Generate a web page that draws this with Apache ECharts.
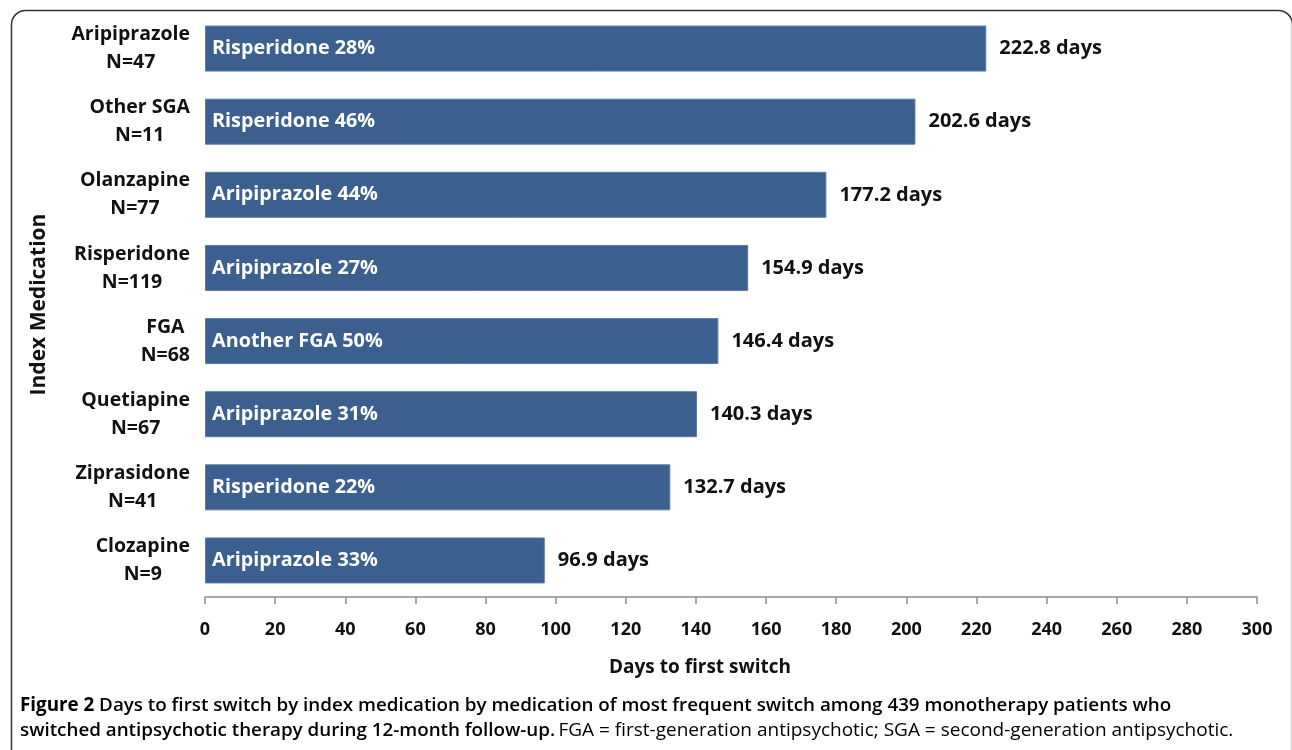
<!DOCTYPE html>
<html>
<head>
<meta charset="utf-8">
<script src="https://cdn.jsdelivr.net/npm/echarts@6/dist/echarts.min.js"></script>
<style>
html,body{margin:0;padding:0;background:#fff;}
#chart{width:1292px;height:750px;}
</style>
</head>
<body>
<div id="chart"></div>
<script>
const medications = ['Aripiprazole', 'Other SGA', 'Olanzapine', 'Risperidone', 'FGA', 'Quetiapine', 'Ziprasidone', 'Clozapine'];
const patientCounts = [47, 11, 77, 119, 68, 67, 41, 9];
const daysToSwitch = [222.8, 202.6, 177.2, 154.9, 146.4, 140.3, 132.7, 96.9];
const switchLabels = ['Risperidone 28%', 'Risperidone 46%', 'Aripiprazole 44%', 'Aripiprazole 27%', 'Another FGA 50%', 'Aripiprazole 31%', 'Risperidone 22%', 'Aripiprazole 33%'];
const xTicks = { min: 0, max: 300, interval: 20 };

const FONT = '"Open Sans", Lato, sans-serif';
const chart = echarts.init(document.getElementById('chart'));
const categories = medications.map((m, i) => m + '\nN=' + patientCounts[i]);

chart.setOption({
  animation: false,
  backgroundColor: '#fff',
  grid: { left: 205, right: 35, top: 12, bottom: 153 },
  xAxis: {
    type: 'value',
    min: xTicks.min, max: xTicks.max, interval: xTicks.interval,
    splitLine: { show: false },
    axisLine: { show: true, lineStyle: { color: '#8c8c8c', width: 1.5 } },
    axisTick: { show: true, length: 7, lineStyle: { color: '#8c8c8c', width: 1.5 } },
    axisLabel: { margin: 24, color: '#111', fontFamily: FONT, fontWeight: 'bold', fontSize: 18 },
    name: 'Days to first switch',
    nameLocation: 'middle',
    nameGap: 61,
    nameTextStyle: { color: '#111', fontFamily: FONT, fontWeight: 'bold', fontSize: 19, padding: [0, 62, 0, 0] }
  },
  yAxis: {
    type: 'category',
    data: categories,
    inverse: true,
    axisLine: { show: false },
    axisTick: { show: false },
    axisLabel: {
      margin: 15,
      align: 'right',
      formatter: function (v) { return v.split('\n').map(s => '{a|' + s + '}').join('\n'); },
      rich: { a: { align: 'center', color: '#111', fontFamily: FONT, fontWeight: 'bold', fontSize: 19.5, lineHeight: 28 } }
    },
    name: 'Index Medication',
    nameLocation: 'middle',
    nameRotate: 90,
    nameGap: 155,
    nameTextStyle: { color: '#111', fontFamily: FONT, fontWeight: 'bold', fontSize: 21 }
  },
  series: [
    {
      type: 'bar',
      data: daysToSwitch,
      barWidth: 46,
      itemStyle: { color: '#3b5f8e', borderColor: '#5b7ca8', borderWidth: 1 },
      label: {
        show: true, position: 'insideLeft', distance: 7,
        formatter: p => switchLabels[p.dataIndex],
        color: '#fff', fontFamily: FONT, fontWeight: 'bold', fontSize: 19.8
      }
    },
    {
      type: 'bar',
      data: daysToSwitch,
      barWidth: 46,
      barGap: '-100%',
      itemStyle: { color: 'transparent' },
      silent: true,
      label: {
        show: true, position: 'right', distance: 13,
        formatter: p => p.value + ' days',
        color: '#111', fontFamily: FONT, fontWeight: 'bold', fontSize: 20
      }
    }
  ],
  graphic: [
    {
      type: 'rect', left: 9, top: 8, silent: true,
      shape: { width: 1281, height: 770, r: 14 },
      style: { fill: 'none', stroke: '#333', lineWidth: 1.5 }
    },
    {
      type: 'text', left: 20, top: 696,
      style: {
        text: '{b|Figure 2 }{s|Days to first switch by index medication by medication of most frequent switch among 439 monotherapy patients who}\n{s|switched antipsychotic therapy during 12-month follow-up.} {n|FGA = first-generation antipsychotic; SGA = second-generation antipsychotic.}',
        rich: {
          b: { fontFamily: FONT, fontWeight: 'bold', fontSize: 18.8, color: '#231f20', lineHeight: 25 },
          s: { fontFamily: FONT, fontWeight: 600, fontSize: 18.8, color: '#231f20', lineHeight: 25 },
          n: { fontFamily: FONT, fontWeight: 'normal', fontSize: 19, color: '#555', lineHeight: 25 }
        }
      }
    }
  ]
});
</script>
</body>
</html>
